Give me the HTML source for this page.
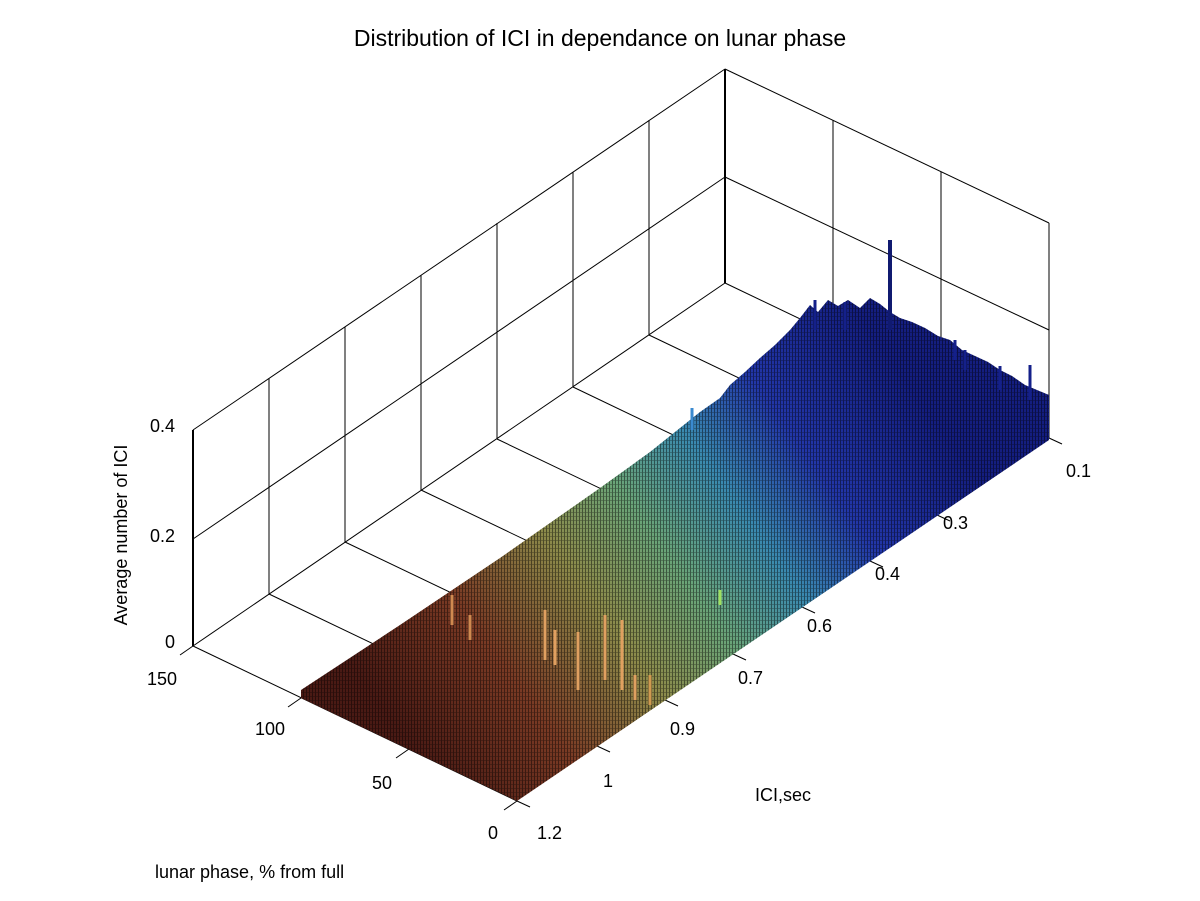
<!DOCTYPE html>
<html><head><meta charset="utf-8"><style>
html,body{margin:0;padding:0;background:#fff;}
svg{display:block;font-family:"Liberation Sans",sans-serif;}
</style></head><body>
<svg width="1200" height="901" viewBox="0 0 1200 901" xmlns="http://www.w3.org/2000/svg">
<defs>
<linearGradient id="g" gradientUnits="userSpaceOnUse" x1="420" y1="760" x2="920" y2="400">
<stop offset="0" stop-color="#4a1a14"/>
<stop offset="0.2" stop-color="#7a3a24"/>
<stop offset="0.38" stop-color="#8c8a4a"/>
<stop offset="0.52" stop-color="#6aa478"/>
<stop offset="0.66" stop-color="#3a8ab0"/>
<stop offset="0.8" stop-color="#2236a8"/>
<stop offset="1" stop-color="#141e80"/>
</linearGradient>
<pattern id="p" patternUnits="userSpaceOnUse" width="3" height="4">
<rect x="0" y="0" width="1" height="4" fill="#000" opacity="0.45"/>
<rect x="1" y="0" width="2" height="1" fill="#000" opacity="0.25"/>
</pattern>
</defs>
<rect width="1200" height="901" fill="#fff"/>
<g stroke="#000" stroke-width="1" fill="none">
<line x1="193" y1="430" x2="725" y2="69"/>
<line x1="193" y1="539" x2="725" y2="177"/>
<line x1="193" y1="646" x2="725" y2="283"/>
<line x1="193" y1="430" x2="193" y2="646" stroke-width="2"/>
<line x1="269" y1="378" x2="269" y2="594"/>
<line x1="345" y1="327" x2="345" y2="542"/>
<line x1="421" y1="275" x2="421" y2="490"/>
<line x1="497" y1="223" x2="497" y2="439"/>
<line x1="573" y1="172" x2="573" y2="387"/>
<line x1="649" y1="120" x2="649" y2="335"/>
<line x1="725" y1="69" x2="725" y2="283" stroke-width="2"/>
<line x1="725" y1="69" x2="1049" y2="223"/>
<line x1="725" y1="177" x2="1049" y2="330"/>
<line x1="725" y1="283" x2="1049" y2="438"/>
<line x1="833" y1="120" x2="833" y2="335"/>
<line x1="941" y1="172" x2="941" y2="386"/>
<line x1="1049" y1="223" x2="1049" y2="438"/>
<line x1="193" y1="646" x2="517" y2="801"/>
<line x1="269" y1="594" x2="593" y2="749"/>
<line x1="345" y1="542" x2="669" y2="697"/>
<line x1="421" y1="490" x2="745" y2="645"/>
<line x1="497" y1="439" x2="821" y2="594"/>
<line x1="573" y1="387" x2="897" y2="542"/>
<line x1="649" y1="335" x2="973" y2="490"/>
<line x1="193" y1="646" x2="180" y2="655"/>
<line x1="301" y1="698" x2="288" y2="707"/>
<line x1="409" y1="749" x2="396" y2="758"/>
<line x1="517" y1="801" x2="504" y2="810"/>
<line x1="517" y1="801" x2="530" y2="807"/>
<line x1="597" y1="746" x2="610" y2="752"/>
<line x1="665" y1="700" x2="678" y2="706"/>
<line x1="733" y1="654" x2="746" y2="660"/>
<line x1="802" y1="607" x2="815" y2="613"/>
<line x1="870" y1="561" x2="883" y2="567"/>
<line x1="937" y1="515" x2="950" y2="521"/>
<line x1="1049" y1="438" x2="1062" y2="444"/>
</g>
<polygon id="d" points="301,698 301,690 400,625 500,558 600,488 650,452 700,412 720,398 730,385 745,372 760,358 775,345 790,330 800,318 810,305 818,312 828,300 838,306 848,300 860,308 870,298 880,304 890,312 900,318 912,322 925,328 938,336 950,340 962,350 975,356 988,362 1000,370 1012,376 1025,385 1037,390 1049,395 1049,440 517,801" fill="url(#g)"/>
<polygon points="301,698 301,690 400,625 500,558 600,488 650,452 700,412 720,398 730,385 745,372 760,358 775,345 790,330 800,318 810,305 818,312 828,300 838,306 848,300 860,308 870,298 880,304 890,312 900,318 912,322 925,328 938,336 950,340 962,350 975,356 988,362 1000,370 1012,376 1025,385 1037,390 1049,395 1049,440 517,801" fill="url(#p)"/>
<g stroke-width="3">
<line x1="890" y1="330" x2="890" y2="240" stroke="#101a70" stroke-width="4"/>
<line x1="815" y1="330" x2="815" y2="300" stroke="#14208a"/>
<line x1="845" y1="330" x2="845" y2="302" stroke="#14208a"/>
<line x1="955" y1="360" x2="955" y2="340" stroke="#14208a"/>
<line x1="965" y1="370" x2="965" y2="350" stroke="#14208a"/>
<line x1="1000" y1="390" x2="1000" y2="366" stroke="#14208a"/>
<line x1="1030" y1="400" x2="1030" y2="365" stroke="#14208a"/>
<line x1="692" y1="430" x2="692" y2="408" stroke="#3a8ad0"/>
<line x1="452" y1="625" x2="452" y2="595" stroke="#d08a50"/>
<line x1="470" y1="640" x2="470" y2="615" stroke="#d08a50"/>
<line x1="545" y1="660" x2="545" y2="610" stroke="#e0a060"/>
<line x1="555" y1="665" x2="555" y2="630" stroke="#e0a060"/>
<line x1="578" y1="690" x2="578" y2="632" stroke="#e0a060"/>
<line x1="605" y1="680" x2="605" y2="615" stroke="#e0a060"/>
<line x1="622" y1="690" x2="622" y2="620" stroke="#e0a060"/>
<line x1="635" y1="700" x2="635" y2="675" stroke="#e0a060"/>
<line x1="650" y1="705" x2="650" y2="675" stroke="#d09a50"/>
<line x1="720" y1="605" x2="720" y2="590" stroke="#a0e060"/>
</g>
<g font-size="18" fill="#000">
<text x="600" y="46" text-anchor="middle" font-size="23">Distribution of ICI in dependance on lunar phase</text>
<text x="175" y="432" text-anchor="end">0.4</text>
<text x="175" y="542" text-anchor="end">0.2</text>
<text x="175" y="648" text-anchor="end">0</text>
<text x="177" y="685" text-anchor="end">150</text>
<text x="285" y="735" text-anchor="end">100</text>
<text x="392" y="789" text-anchor="end">50</text>
<text x="498" y="839" text-anchor="end">0</text>
<text x="537" y="839">1.2</text>
<text x="603" y="787">1</text>
<text x="670" y="735">0.9</text>
<text x="738" y="684">0.7</text>
<text x="807" y="632">0.6</text>
<text x="875" y="580">0.4</text>
<text x="943" y="529">0.3</text>
<text x="1066" y="477">0.1</text>
<text x="755" y="801">ICI,sec</text>
<text x="155" y="878">lunar phase, % from full</text>
<text transform="translate(127,535) rotate(-90)" text-anchor="middle">Average number of ICI</text>
</g>
</svg>
</body></html>
